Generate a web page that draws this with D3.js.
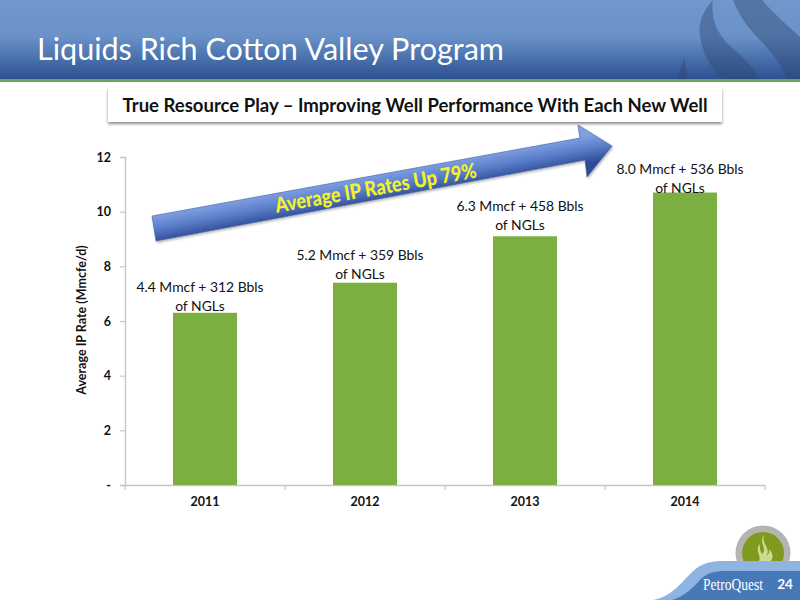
<!DOCTYPE html>
<html><head><meta charset="utf-8">
<script src="https://cdn.jsdelivr.net/npm/d3@7/dist/d3.min.js"></script>
<style>html,body{margin:0;padding:0;background:#fff}svg{display:block}text{font-family:Lato,"Open Sans",sans-serif}</style>
</head><body><svg id="c" width="800" height="600"></svg>
<script>
const years = ["2011","2012","2013","2014"];
const rates = [6.3,7.4,9.1,10.7];
const yTicks = [0,2,4,6,8,10,12];
const barLabels = [["4.4 Mmcf + 312 Bbls","of NGLs"],["5.2 Mmcf + 359 Bbls","of NGLs"],["6.3 Mmcf + 458 Bbls","of NGLs"],["8.0 Mmcf + 536 Bbls","of NGLs"]];
const titleText = "Liquids Rich Cotton Valley Program";
const subtitleText = "True Resource Play – Improving Well Performance With Each New Well";
const arrowText = "Average IP Rates Up 79%";
const yTitle = "Average IP Rate (Mmcfe/d)";

const svg = d3.select("#c");
const defs = svg.append("defs");
function grad(id, stops){
  const g = defs.append("linearGradient").attr("id",id).attr("x1",0).attr("y1",0).attr("x2",0).attr("y2",1);
  stops.forEach(s=>g.append("stop").attr("offset",s[0]).attr("stop-color",s[1]));
  return g;
}
grad("hdr",[[0,"#7098cd"],[0.45,"#6a91c8"],[0.72,"#4a72ac"],[1,"#2a4f90"]]);
grad("arw",[[0,"#80a0e2"],[0.5,"#5a7dc8"],[1,"#2e4c98"]])
  .attr("gradientUnits","userSpaceOnUse").attr("x1",366).attr("y1",176).attr("x2",371).attr("y2",203);
const sh = defs.append("filter").attr("id","sh").attr("x","-5%").attr("y","-30%").attr("width","110%").attr("height","170%");
sh.append("feDropShadow").attr("dx",0).attr("dy",2).attr("stdDeviation",1.6).attr("flood-color","#000").attr("flood-opacity",0.45);
const sh2 = defs.append("filter").attr("id","sh2").attr("x","-5%").attr("y","-20%").attr("width","110%").attr("height","150%");
sh2.append("feDropShadow").attr("dx",1).attr("dy",1.5).attr("stdDeviation",1).attr("flood-color","#000").attr("flood-opacity",0.3);

// header
svg.append("rect").attr("width",800).attr("height",80).attr("fill","url(#hdr)");
const flames = [
  "M713,0 C702,12 698,24 700,36 C702,54 712,68 722,80 L760,80 C752,66 742,56 730,46 C720,36 710,22 713,0 Z",
  "M733,0 C738,14 748,28 758,38 C772,52 782,66 787,80 L800,80 L800,37 C786,24 772,12 762,0 Z",
  "M685,57 C682,66 678,74 675,80 L688,80 C686,72 685,64 685,57 Z"
];
svg.append("g").selectAll("path").data(flames).enter().append("path").attr("d",d=>d).attr("fill","#2d4670").attr("opacity",0.42);
svg.append("rect").attr("y",79).attr("width",800).attr("height",3).attr("fill","#6da35a");
svg.append("text").attr("x",37).attr("y",60).attr("font-size",31.5).attr("fill","#fff").attr("textLength",467).attr("lengthAdjust","spacingAndGlyphs").text(titleText);

// subtitle box
svg.append("rect").attr("x",108).attr("y",88).attr("width",614).attr("height",34).attr("fill","#fff").attr("filter","url(#sh)");
svg.append("text").attr("x",415).attr("y",112).attr("text-anchor","middle").attr("font-size",19).attr("font-weight",700).attr("fill","#111").attr("lengthAdjust","spacingAndGlyphs").attr("textLength",585).text(subtitleText);

// chart
const x = d3.scaleBand().domain(years).range([125,765]).paddingInner(0.6).paddingOuter(0.3);
const xOuter = d3.scaleBand().domain(years).range([125,765]);
const y = d3.scaleLinear().domain([0,12]).range([485,157]);

const yAxis = d3.axisLeft(y).tickValues(yTicks).tickSize(5).tickPadding(9).tickFormat(d=>d===0?"-":d);
const gy = svg.append("g").attr("transform","translate(125,0)").call(yAxis);
const xAxis = d3.axisBottom(xOuter).tickSize(0).tickPadding(12);
const gx = svg.append("g").attr("transform","translate(0,485)").call(xAxis);
[gy,gx].forEach(g=>{
  g.selectAll("path.domain").attr("stroke","#c6c6c6").attr("stroke-width",1.4);
  g.selectAll("line").attr("stroke","#c6c6c6").attr("stroke-width",1.2);
  g.selectAll("text").attr("font-size",12.5).attr("font-weight",700).attr("fill","#111").style("font-family","Lato");
});
gx.selectAll(".bnd").data(d3.range(years.length+1)).enter().append("line")
  .attr("x1",i=>125+i*xOuter.step()).attr("x2",i=>125+i*xOuter.step()).attr("y1",0).attr("y2",5)
  .attr("stroke","#c6c6c6").attr("stroke-width",1.2);

svg.append("g").selectAll("rect").data(years).enter().append("rect")
  .attr("x",d=>x(d)).attr("width",x.bandwidth())
  .attr("y",(d,i)=>y(rates[i])).attr("height",(d,i)=>y(0)-y(rates[i]))
  .attr("fill","#7bb041");

const labelRise = [21,23,25,19];
barLabels.forEach((l,i)=>{
  const cx = x(years[i])+x.bandwidth()/2-5, top = y(rates[i]);
  l.forEach((t,j)=>svg.append("text").attr("x",cx).attr("y",top-labelRise[i]+j*19).attr("text-anchor","middle")
    .attr("font-size",13.9).attr("fill","#111").text(t));
});

svg.append("text").attr("transform","translate(86,320) rotate(-90)").attr("text-anchor","middle")
  .attr("font-size",12.5).attr("font-weight",700).attr("fill","#111").text(yTitle);

// arrow
const arrowPts = [[152,216],[580,138],[578,125],[612,146],[587,177],[585,160],[156,241]];
svg.append("path").attr("d","M"+arrowPts.join("L")+"Z").attr("fill","url(#arw)").attr("stroke","#3f5f9f").attr("stroke-width",0.6).attr("filter","url(#sh2)");
svg.append("text").attr("transform","translate(377,195) rotate(-10)").attr("text-anchor","middle")
  .attr("font-size",21).attr("font-weight",900).attr("fill","#f4f32a").attr("textLength",204).attr("lengthAdjust","spacingAndGlyphs").text(arrowText);

// footer
svg.append("circle").attr("cx",763).attr("cy",553).attr("r",27.5).attr("fill","#b4b4b2");
svg.append("circle").attr("cx",763).attr("cy",553).attr("r",21).attr("fill","#7f9a1f");
svg.append("path").attr("d","M764,535 C758,543 768,548 762,554 C759,549 760,546 760,544 C754,550 762,556 759,561 L771,561 C774,556 772,552 769,549 C770,553 768,555 766,556 C772,549 761,544 764,535 Z").attr("fill","#c9dc90");
svg.append("path").attr("d","M653,600 C672,596 680,584 690,574 C698,566 706,561 722,561 L800,561 L800,600 Z").attr("fill","#8fb4e2");
svg.append("path").attr("d","M672,600 C686,596 694,586 702,578 C708,573 714,571 726,571 L800,571 L800,600 Z").attr("fill","#4779b8");
svg.append("text").attr("x",703).attr("y",590).attr("font-size",17).attr("fill","#fff").style("font-family","Liberation Serif").attr("textLength",60).attr("lengthAdjust","spacingAndGlyphs").text("PetroQuest");
svg.append("text").attr("x",785).attr("y",589).attr("text-anchor","middle").attr("font-size",13.5).attr("font-weight",700).attr("fill","#fff").text("24");
</script></body></html>
